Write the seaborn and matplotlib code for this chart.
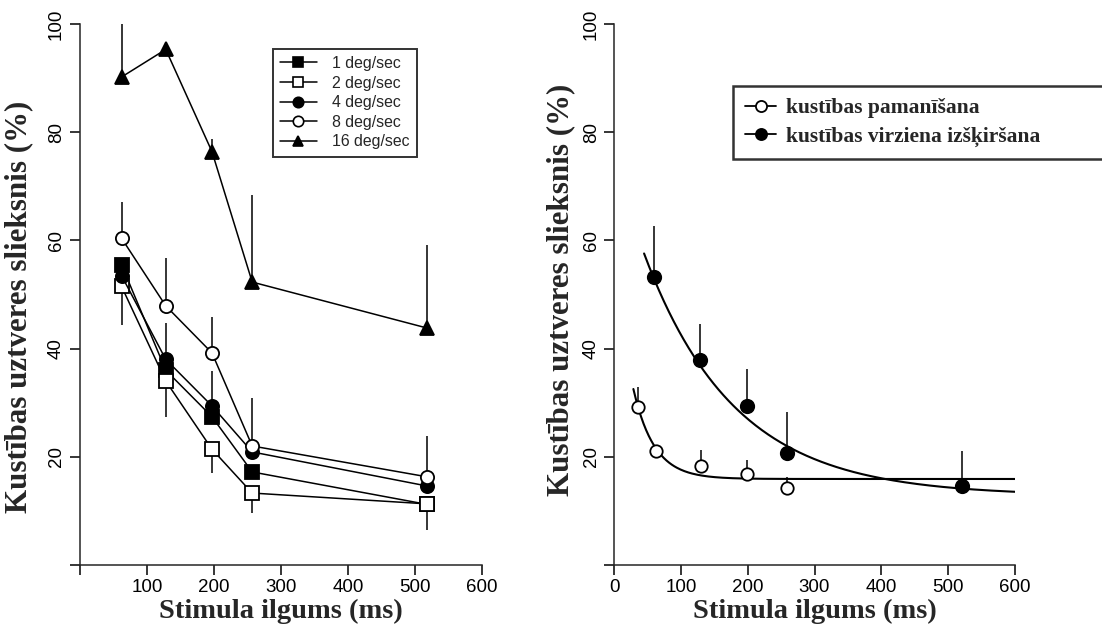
import numpy as np
import pandas as pd
import matplotlib
matplotlib.use("Agg")
import matplotlib.pyplot as plt
from matplotlib.lines import Line2D
import seaborn as sns

# ---- left panel: threshold vs stimulus duration for five speeds ----
durations = [62, 128, 197, 257, 518]
speed_labels = ["1 deg/sec", "2 deg/sec", "4 deg/sec", "8 deg/sec", "16 deg/sec"]
thr_1 = [55.5, 36.0, 27.4, 17.2, 11.2]
thr_2 = [51.5, 34.0, 21.4, 13.3, 11.3]
thr_4 = [53.5, 38.0, 29.4, 20.9, 14.6]
thr_8 = [60.4, 47.9, 39.2, 22.0, 16.3]
thr_16 = [90.2, 95.3, 76.4, 52.3, 43.8]
# one-sided error bars (upper / lower)
err_up_4 = [0.0, 6.7, 6.5, 0.0, 0.0]
err_up_8 = [6.7, 8.8, 6.6, 8.8, 7.5]
err_up_16 = [9.8, 0.0, 2.3, 16.0, 15.3]
err_dn_2 = [7.1, 6.7, 4.4, 3.7, 4.8]

# ---- right panel: detection vs direction discrimination ----
det_x = [36, 63, 130, 199, 259]
det_y = [29.2, 21.1, 18.3, 16.8, 14.2]
det_err = [3.7, 0.0, 3.0, 2.6, 2.1]
dir_x = [60, 128, 199, 259, 520]
dir_y = [53.2, 37.9, 29.4, 20.7, 14.6]
dir_err = [9.5, 6.6, 6.8, 7.6, 6.5]
cond_labels = ["kustības pamanīšana", "kustības virziena izšķiršana"]
# exponential fits: asymptote, amplitude, time constant (ms), fitted range
det_fit = (15.9, 42.0, 31.3, 29, 600)
dir_fit = (12.8, 62.5, 135.0, 45, 600)

sns.set_theme(style="white")
plt.rcParams["font.family"] = ["Liberation Sans", "DejaVu Sans"]
plt.rcParams["axes.linewidth"] = 1.1

fig = plt.figure(figsize=(11.02, 6.32), dpi=100)
W, H = 1102, 632
axL = fig.add_axes([80 / W, 67 / H, 402 / W, 541 / H])
axR = fig.add_axes([614 / W, 67 / H, 401 / W, 541 / H])

serif = ["Liberation Serif", "DejaVu Serif"]
lw = 1.1
ms = 9.5

series = [
    (thr_1, "s", "black"),
    (thr_2, "s", "white"),
    (thr_4, "o", "black"),
    (thr_8, "o", "white"),
    (thr_16, "^", "black"),
]

# error bars first so markers sit on top
for vals, up in [(thr_4, err_up_4), (thr_8, err_up_8), (thr_16, err_up_16)]:
    for x, v, e in zip(durations, vals, up):
        if e > 0:
            axL.vlines(x, v, v + e, color="black", lw=lw, zorder=1)
for x, v, e in zip(durations, thr_2, err_dn_2):
    axL.vlines(x, v - e, v, color="black", lw=lw, zorder=1)

for vals, mk, fc in series:
    sns.lineplot(x=durations, y=vals, ax=axL, color="black", lw=lw,
                 marker=mk, markersize=ms, markerfacecolor=fc,
                 markeredgecolor="black", markeredgewidth=1.3, zorder=3)

handles = [Line2D([], [], color="black", lw=lw, marker=mk, markersize=7.5,
                  markerfacecolor=fc, markeredgecolor="black",
                  markeredgewidth=1.2)
           for _, mk, fc in series]
legL = axL.legend(handles, speed_labels, loc="upper left",
                  bbox_to_anchor=(0.480, 0.954), borderaxespad=0,
                  frameon=True, fancybox=False, edgecolor="black",
                  fontsize=11.4, handlelength=2.3, borderpad=0.45,
                  labelspacing=0.29, handletextpad=1.0)
legL.get_frame().set_linewidth(1.4)

# right panel
for xs, ys, es in [(det_x, det_y, det_err), (dir_x, dir_y, dir_err)]:
    for x, v, e in zip(xs, ys, es):
        if e > 0:
            axR.vlines(x, v, v + e, color="black", lw=lw, zorder=1)

for (a, b, tau, x0, x1) in [det_fit, dir_fit]:
    xf = np.linspace(x0, x1, 300)
    sns.lineplot(x=xf, y=a + b * np.exp(-xf / tau), ax=axR, color="black",
                 lw=1.5, zorder=2)

sns.scatterplot(x=det_x, y=det_y, ax=axR, marker="o", s=80,
                facecolor="white", edgecolor="black", linewidth=1.3, zorder=3)
sns.scatterplot(x=dir_x, y=dir_y, ax=axR, marker="o", s=95,
                color="black", edgecolor="black", linewidth=1.2, zorder=3)

handlesR = [Line2D([], [], color="black", lw=1.3, marker="o", markersize=8,
                   markerfacecolor=fc, markeredgecolor="black",
                   markeredgewidth=1.3)
            for fc in ("white", "black")]
legR = axR.legend(handlesR, cond_labels, loc="upper left", mode="expand",
                  bbox_to_anchor=(0.297, 0.749, 0.98, 0.136), borderaxespad=0,
                  frameon=True, fancybox=False, edgecolor="black",
                  handlelength=1.45, borderpad=0.55, labelspacing=0.4,
                  handletextpad=0.45,
                  prop=dict(family=serif, weight="bold", size=15.5))
legR.get_frame().set_linewidth(1.8)

for ax, ypad in [(axL, 4), (axR, 3)]:
    ax.set_xlim(0, 600)
    ax.set_ylim(0, 100)
    sns.despine(ax=ax)
    ax.set_yticks([0, 20, 40, 60, 80, 100])
    ax.set_yticklabels(["", "20", "40", "60", "80", "100"])
    ax.set_xticks([0, 100, 200, 300, 400, 500, 600])
    ax.tick_params(axis="both", direction="out", length=7, width=1.1,
                   labelsize=13.5, colors="black", left=True, bottom=True)
    ax.tick_params(axis="y", labelrotation=90, pad=ypad)
    ax.tick_params(axis="x", pad=3)
    for t in ax.get_yticklabels():
        t.set_va("center")
    ax.set_xlabel("Stimula ilgums (ms)", fontsize=20.5, labelpad=2,
                  family=serif, weight="bold")
    ax.set_ylabel("Kustības uztveres slieksnis (%)", fontsize=22.3,
                  family=serif, weight="bold")
    ax.grid(False)

axL.set_xticklabels(["", "100", "200", "300", "400", "500", "600"])
axL.yaxis.set_label_coords(-0.117, 0.477)
axR.yaxis.set_label_coords(-0.097, 0.508)

fig.savefig("out.png", dpi=100, facecolor="white")
